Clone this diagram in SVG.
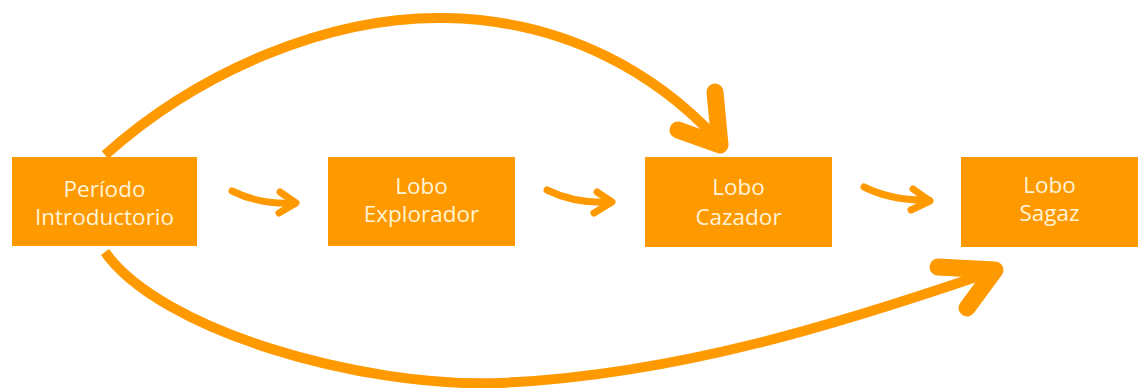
<svg xmlns="http://www.w3.org/2000/svg" width="1138" height="388" viewBox="0 0 1138 388">
<style>
.box{fill:#FF9900}
.lbl{font-family:"Open Sans","DejaVu Sans",sans-serif;font-size:22.5px;fill:#FFF3D6;text-anchor:middle}
.big{fill:none;stroke:#FF9900;stroke-width:10}
.head{fill:none;stroke:#FF9900;stroke-width:17;stroke-linecap:round;stroke-linejoin:round}
.small{fill:none;stroke:#FF9900;stroke-width:7;stroke-linecap:round;stroke-linejoin:round}
</style>
<rect width="1138" height="388" fill="#FFFFFF"/>
<g id="connectors">
<path class="big" d="M105,155 C200,70 330,16 445,18 C570,20 660,78 716,138"/>
<path class="head" d="M678,130 L720,145 L715,92"/>
<path class="big" d="M105,252 C160,330 360,388 500,383 C680,375 850,320 985,274"/>
<path class="head" d="M938,267 L995,270 L967,308"/>
<path class="small" d="M232,191 Q260,205 295,203"/>
<path class="small" d="M280,192 L296,203 L279,213"/>
<path class="small" d="M547,190 Q575,204 611,202"/>
<path class="small" d="M597,192 L612,202 L594,213"/>
<path class="small" d="M864,187 Q892,201 929,200"/>
<path class="small" d="M913,189 L930,201 L911,210"/>
</g>
<g id="n1"><rect class="box" x="12" y="157" width="185" height="89"/><text class="lbl" x="104.5" y="197">Período</text><text class="lbl" x="104.5" y="225">Introductorio</text></g>
<g id="n2"><rect class="box" x="328" y="157" width="187" height="89"/><text class="lbl" x="421.5" y="194">Lobo</text><text class="lbl" x="421.5" y="222">Explorador</text></g>
<g id="n3"><rect class="box" x="645" y="157" width="187" height="90"/><text class="lbl" x="738.5" y="195">Lobo</text><text class="lbl" x="738.5" y="225">Cazador</text></g>
<g id="n4"><rect class="box" x="961" y="157" width="177" height="90"/><text class="lbl" x="1049.5" y="193">Lobo</text><text class="lbl" x="1049.5" y="221">Sagaz</text></g>
</svg>
